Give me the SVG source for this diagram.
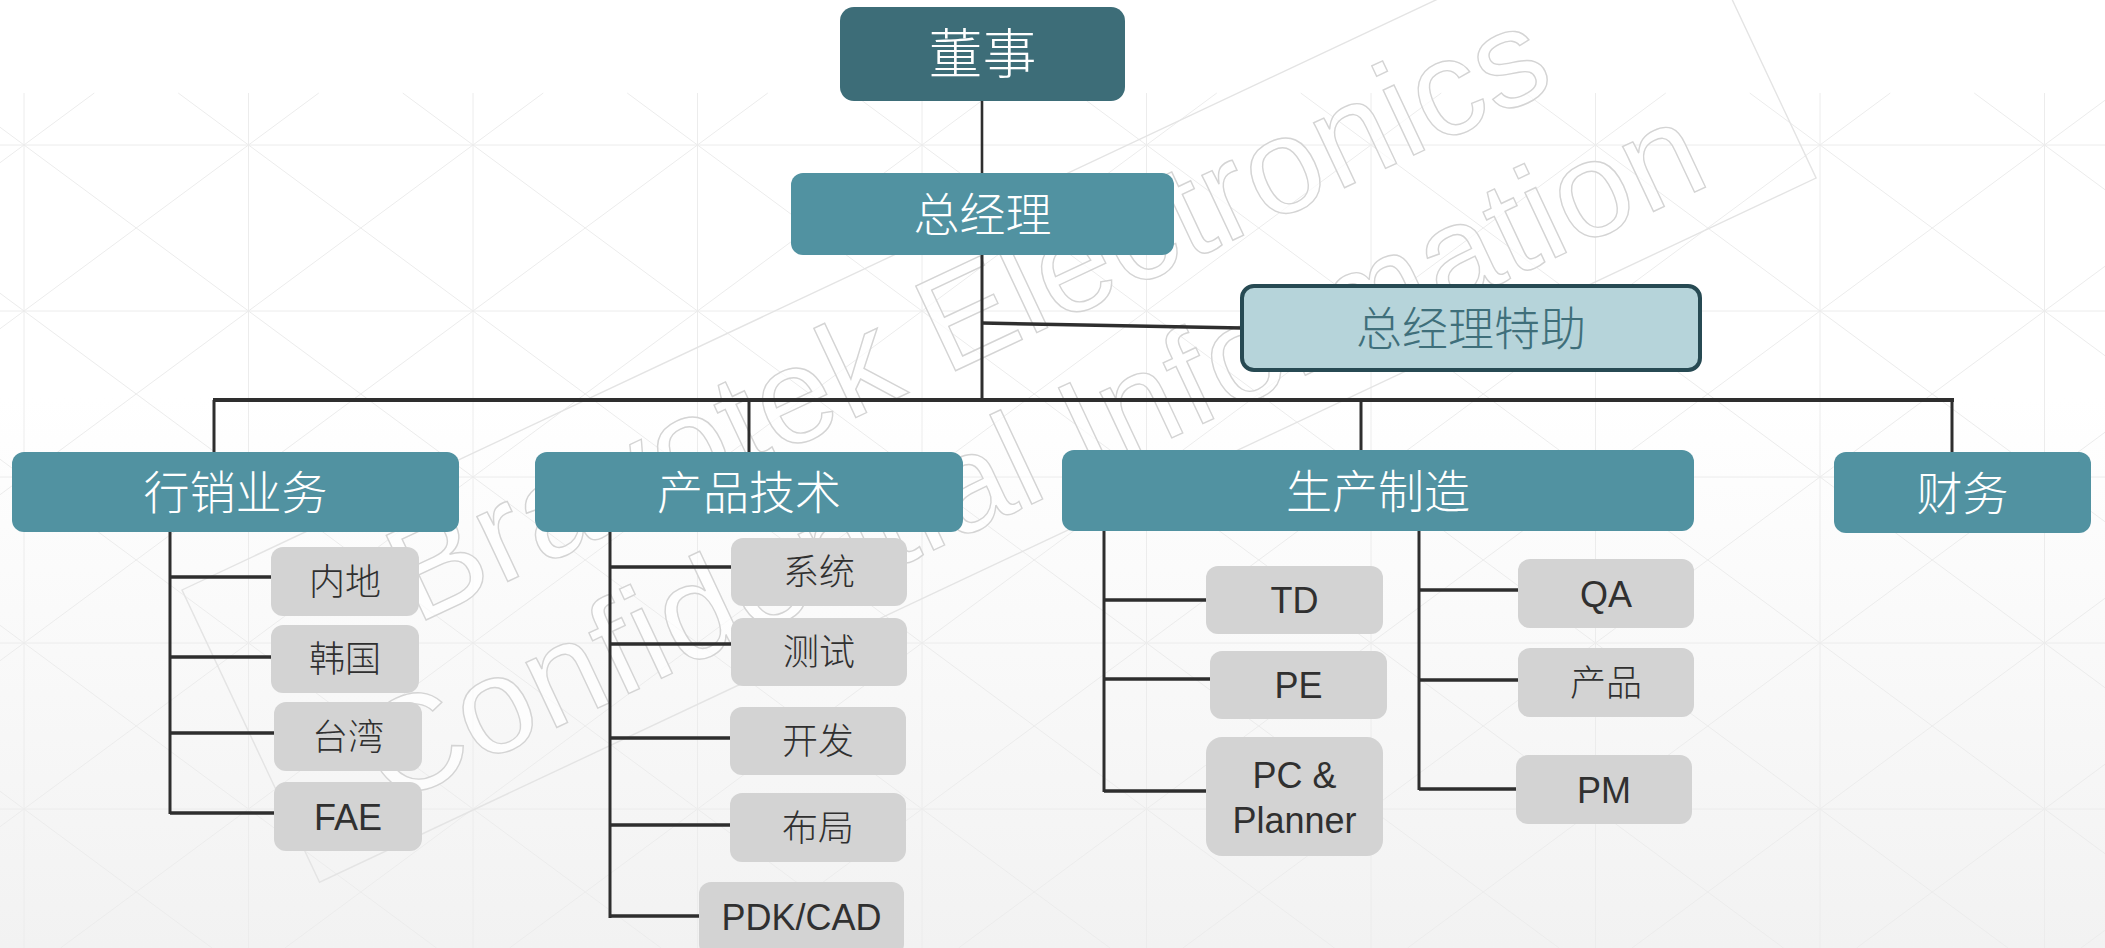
<svg xmlns="http://www.w3.org/2000/svg" width="2105" height="948" viewBox="0 0 2105 948">
<defs>
<linearGradient id="bg" x1="0" y1="0" x2="0" y2="1">
<stop offset="0" stop-color="#ffffff"/>
<stop offset="0.42" stop-color="#ffffff"/>
<stop offset="1" stop-color="#f2f2f2"/>
</linearGradient>
<style>
.grid{fill:none;stroke:#ececec;stroke-width:1}
.top{fill:#3d6d78}
.lvl{fill:#5192a1}
.assist{fill:#b6d4da;stroke:#274a53;stroke-width:4}
.sub{fill:#d3d3d3}
.cjk{font-family:"Noto Sans CJK SC","Noto Sans",sans-serif;font-weight:300;text-anchor:middle}
.lat{font-family:"Liberation Sans",Arial,sans-serif;text-anchor:middle;fill:#303030}
.w{fill:#ffffff}
.d{fill:#303030}
.a{fill:#3f6f7a}
.v{fill:none;stroke:#2e2e2e;stroke-width:3}
.h{fill:none;stroke:#2e2e2e;stroke-width:3.5}
.wm{font-family:"Liberation Sans",Arial,sans-serif;font-size:136px;fill:#ffffff;fill-opacity:0.7;stroke:#d4d4d4;stroke-width:1.4}
.frame{fill:none;stroke:#e4e4e4;stroke-width:1.4}
</style>
</defs>
<rect x="0" y="0" width="2105" height="948" fill="url(#bg)"/>
<path class="grid" d="M24 93V948M248.5 93V948M473 93V948M697.5 93V948M922 93V948M1146.5 93V948M1371 93V948M1595.5 93V948M1820 93V948M2044.5 93V948M0 145H2105M0 311H2105M0 477H2105M0 643H2105M0 809H2105"/>
<path class="grid" d="M-944.3 93L212 948M-719.8 93L436.5 948M-495.3 93L661 948M-270.8 93L885.5 948M-46.3 93L1110 948M178.2 93L1334.5 948M402.7 93L1559 948M627.2 93L1783.5 948M851.7 93L2008 948M1076.2 93L2232.5 948M1300.7 93L2457 948M1525.2 93L2681.5 948M1749.7 93L2906 948M1974.2 93L3130.5 948M94.3 93L-1062 948M318.8 93L-837.5 948M543.3 93L-613 948M767.8 93L-388.5 948M992.3 93L-164 948M1216.8 93L60.5 948M1441.3 93L285 948M1665.8 93L509.5 948M1890.3 93L734 948M2114.8 93L958.5 948M2339.3 93L1183 948M2563.8 93L1407.5 948M2788.3 93L1632 948M3012.8 93L1856.5 948M3237.3 93L2081 948M3461.8 93L2305.5 948"/>

<g id="watermark" transform="translate(182 590) rotate(-25.2)">
<rect class="frame" x="0" y="0" width="1654" height="323"/>
<text class="wm" x="197" y="131" textLength="1262" lengthAdjust="spacing">Bravotek Electronics</text>
<text class="wm" x="95" y="284" textLength="1464" lengthAdjust="spacing">Confidential Information</text>
</g>

<g id="connectors">
<path class="v" d="M982 100V174" style="stroke-width:2.6"/>
<path class="v" d="M982 254V401"/>
<path class="h" d="M982 323L1242 328"/>
<path class="h" d="M213 400H1954" style="stroke-width:4"/>
<path class="v" d="M214 400V453M749 400V453M1361 400V451M1952 400V453"/>
<path class="v" d="M170 526V814"/>
<path class="h" d="M170 577H271M170 657H271M170 733H274M170 813H274"/>
<path class="v" d="M610 528V918"/>
<path class="h" d="M610 567H731M610 644H731M610 738H730M610 825H730M610 916H699"/>
<path class="v" d="M1104 528V792"/>
<path class="h" d="M1104 600H1206M1104 679H1210M1104 791H1206"/>
<path class="v" d="M1419 528V790"/>
<path class="h" d="M1419 590H1518M1419 680H1518M1419 789H1516"/>
</g>

<g id="n-dongshi"><rect class="top" x="840" y="7" width="285" height="94" rx="14"/><text class="cjk w" x="982.5" y="74" font-size="54">董事</text></g>
<g id="n-zongjingli"><rect class="lvl" x="791" y="173" width="383" height="82" rx="12"/><text class="cjk w" x="982.5" y="231" font-size="46">总经理</text></g>
<g id="n-tezhu"><rect class="assist" x="1242" y="286" width="458" height="84" rx="12"/><text class="cjk a" x="1471" y="345" font-size="46">总经理特助</text></g>

<g id="n-xiaoshou"><rect class="lvl" x="12" y="452" width="447" height="80" rx="12"/><text class="cjk w" x="235.5" y="509" font-size="46">行销业务</text></g>
<g id="n-chanpinjishu"><rect class="lvl" x="535" y="452" width="428" height="80" rx="12"/><text class="cjk w" x="749" y="509" font-size="46">产品技术</text></g>
<g id="n-shengchan"><rect class="lvl" x="1062" y="450" width="632" height="81" rx="12"/><text class="cjk w" x="1378" y="508" font-size="46">生产制造</text></g>
<g id="n-caiwu"><rect class="lvl" x="1834" y="452" width="257" height="81" rx="12"/><text class="cjk w" x="1962.5" y="510" font-size="46">财务</text></g>

<g id="n-neidi"><rect class="sub" x="271" y="547" width="148" height="69" rx="12"/><text class="cjk d" x="345" y="595" font-size="36">内地</text></g>
<g id="n-hanguo"><rect class="sub" x="271" y="625" width="148" height="68" rx="12"/><text class="cjk d" x="345" y="672" font-size="36">韩国</text></g>
<g id="n-taiwan"><rect class="sub" x="274" y="702" width="148" height="69" rx="12"/><text class="cjk d" x="348" y="750" font-size="36">台湾</text></g>
<g id="n-fae"><rect class="sub" x="274" y="782" width="148" height="69" rx="12"/><text class="lat" x="348" y="829.5" font-size="36">FAE</text></g>

<g id="n-xitong"><rect class="sub" x="731" y="538" width="176" height="68" rx="12"/><text class="cjk d" x="819" y="585" font-size="36">系统</text></g>
<g id="n-ceshi"><rect class="sub" x="731" y="618" width="176" height="68" rx="12"/><text class="cjk d" x="819" y="665" font-size="36">测试</text></g>
<g id="n-kaifa"><rect class="sub" x="730" y="707" width="176" height="68" rx="12"/><text class="cjk d" x="818" y="754" font-size="36">开发</text></g>
<g id="n-buju"><rect class="sub" x="730" y="793" width="176" height="69" rx="12"/><text class="cjk d" x="818" y="841" font-size="36">布局</text></g>
<g id="n-pdkcad"><rect class="sub" x="699" y="882" width="205" height="74" rx="12"/><text class="lat" x="801.5" y="930" font-size="36">PDK/CAD</text></g>

<g id="n-td"><rect class="sub" x="1206" y="566" width="177" height="68" rx="12"/><text class="lat" x="1294.5" y="613" font-size="36">TD</text></g>
<g id="n-pe"><rect class="sub" x="1210" y="651" width="177" height="68" rx="12"/><text class="lat" x="1298.5" y="698" font-size="36">PE</text></g>
<g id="n-pc"><rect class="sub" x="1206" y="737" width="177" height="119" rx="16"/><text class="lat" x="1294.5" y="788" font-size="36">PC &amp;</text><text class="lat" x="1294.5" y="833" font-size="36">Planner</text></g>
<g id="n-qa"><rect class="sub" x="1518" y="559" width="176" height="69" rx="12"/><text class="lat" x="1606" y="606.5" font-size="36">QA</text></g>
<g id="n-chanpin"><rect class="sub" x="1518" y="648" width="176" height="69" rx="12"/><text class="cjk d" x="1606" y="696" font-size="36">产品</text></g>
<g id="n-pm"><rect class="sub" x="1516" y="755" width="176" height="69" rx="12"/><text class="lat" x="1604" y="802.5" font-size="36">PM</text></g>
</svg>
